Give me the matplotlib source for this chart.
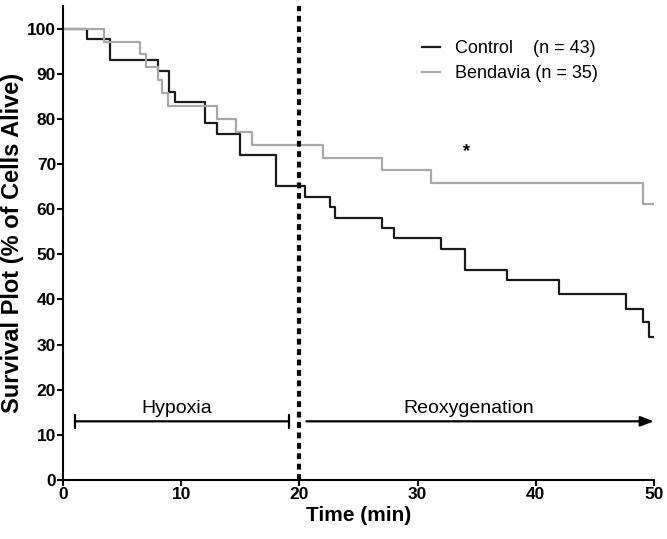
import matplotlib
matplotlib.use("Agg")
import matplotlib.pyplot as plt

# Kaplan-Meier style steps
control_t = [0, 2, 4, 8, 9, 9.5, 12, 13, 15, 18, 20.5, 22.6, 23, 27, 28, 32, 34, 37.6, 42, 47.6, 49.1, 49.6, 50]
control_s = [100, 97.7, 93.0, 90.7, 86.0, 83.7, 79.1, 76.7, 72.1, 65.1, 62.8, 60.5, 58.1, 55.8, 53.5, 51.2, 46.5,
             44.2, 41.2, 37.8, 34.9, 31.6, 31.6]

bendavia_t = [0, 3.5, 6.5, 7, 8, 8.4, 8.9, 13, 14.6, 16, 22, 27, 31.1, 49.1, 50]
bendavia_s = [100, 97.1, 94.3, 91.4, 88.6, 85.7, 82.9, 80.0, 77.1, 74.3, 71.4, 68.6, 65.7, 61.2, 61.2]

labels = ["Control    (n = 43)", "Bendavia (n = 35)"]
xticks = [0, 10, 20, 30, 40, 50]
yticks = [0, 10, 20, 30, 40, 50, 60, 70, 80, 90, 100]

plt.rcParams['font.family'] = ['Liberation Sans', 'DejaVu Sans']

fig = plt.figure(figsize=(6.67, 5.39), dpi=100)
ax = fig.add_axes([63 / 667, 1 - 480 / 539, (654 - 63) / 667, (480 - 6) / 539])

ax.step(control_t, control_s, where="post", color="#1a1a1a", lw=1.6, label=labels[0])
ax.step(bendavia_t, bendavia_s, where="post", color="#a8a8a8", lw=1.6, label=labels[1])

# reoxygenation starts at 20 min
ax.axvline(20, color="black", lw=3, linestyle=(0, (1.4, 1.1)))

ax.annotate("", xy=(1, 13), xytext=(19.1, 13),
            arrowprops=dict(arrowstyle="|-|,widthA=0.45,widthB=0.45", lw=1.6, color="black", shrinkA=0, shrinkB=0))
ax.annotate("", xy=(50, 13), xytext=(20.6, 13),
            arrowprops=dict(arrowstyle="-|>,head_length=0.8,head_width=0.3", lw=1.6, color="black",
                            shrinkA=0, shrinkB=0))
ax.text(9.6, 14.8, "Hypoxia", fontsize=14, ha="center", va="baseline")
ax.text(34.3, 14.8, "Reoxygenation", fontsize=14, ha="center", va="baseline")
ax.text(34.1, 72.8, "*", fontsize=13, fontweight="bold", ha="center", va="center")

ax.set_xlim(0, 50)
ax.set_ylim(0, 105)
ax.set_xticks(xticks)
ax.set_yticks(yticks)
ax.tick_params(direction="out", length=4, width=1.5, labelsize=12.5, pad=1)
for lab in ax.get_xticklabels() + ax.get_yticklabels():
    lab.set_fontweight("bold")
for side in ["top", "right"]:
    ax.spines[side].set_visible(False)
for side in ["left", "bottom"]:
    ax.spines[side].set_linewidth(1.5)

ax.set_xlabel("Time (min)", fontsize=15, fontweight="bold", labelpad=3)
ax.set_ylabel("Survival Plot (% of Cells Alive)", fontsize=17, fontweight="bold", labelpad=2)

fig.legend(loc="upper left", bbox_to_anchor=(415 / 667, 1 - 33 / 539), frameon=False, fontsize=13,
           handlelength=1.0, handletextpad=0.8, labelspacing=0.45, borderaxespad=0)

fig.savefig("out.png", dpi=100)
